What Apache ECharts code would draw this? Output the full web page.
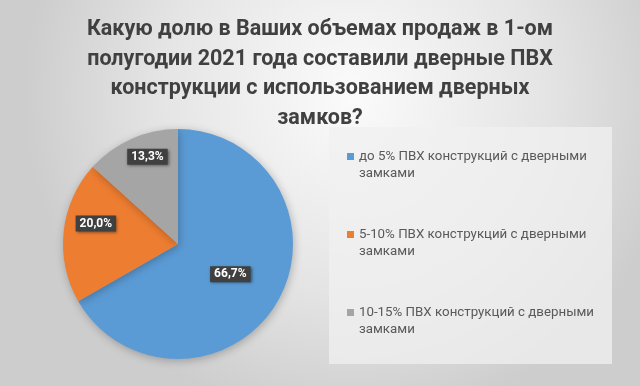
<!DOCTYPE html>
<html>
<head>
<meta charset="utf-8">
<script src="https://cdn.jsdelivr.net/npm/echarts@6/dist/echarts.min.js"></script>
<style>
html,body{margin:0;padding:0;}
#c{width:640px;height:386px;}
</style>
</head>
<body>
<div id="c"></div>
<script>
// --- data ---
var titleText = 'Какую долю в Ваших объемах продаж в 1-ом\nполугодии 2021 года составили дверные ПВХ\nконструкции с использованием дверных\nзамков?';
var categories = [
  'до 5% ПВХ конструкций с дверными замками',
  '5-10% ПВХ конструкций с дверными замками',
  '10-15% ПВХ конструкций с дверными замками'
];
var shares = [66.7, 20.0, 13.3];
var labels = ['66,7%', '20,0%', '13,3%'];

var colors = ['#5b9bd5', '#ed7d31', '#a5a5a5'];
var labelShift = [[0, 0], [-22, -14], [-6, -32]];
var FONT = 'Roboto';

var chart = echarts.init(document.getElementById('c'));
chart.setOption({
  animation: false,
  backgroundColor: {
    type: 'radial', x: 0.55, y: 0.25, r: 0.85,
    colorStops: [
      {offset: 0, color: '#fbfbfb'},
      {offset: 0.6, color: '#e4e4e4'},
      {offset: 1, color: '#cdcdcd'}
    ]
  },
  color: colors,
  title: {
    text: titleText,
    left: 'center',
    top: 10,
    textStyle: {
      fontFamily: FONT, fontSize: 21.5, fontWeight: 'bold',
      color: '#404040', lineHeight: 29.5
    }
  },
  legend: {
    orient: 'vertical',
    left: 329, top: 127,
    padding: [4, 13, 26, 18],
    backgroundColor: 'rgba(240,240,240,0.75)',
    itemWidth: 7, itemHeight: 7,
    itemGap: 27,
    icon: 'rect',
    formatter: function (n) { return '\n' + n.replace(' замками', '\nзамками'); },
    textStyle: {
      fontFamily: FONT, fontSize: 13.3, color: '#595959',
      lineHeight: 17, width: 240
    },
    data: categories
  },
  series: [{
    type: 'pie',
    center: [178, 244],
    radius: 115,
    startAngle: 90,
    clockwise: true,
    avoidLabelOverlap: false,
    itemStyle: {
      shadowBlur: 8, shadowColor: 'rgba(0,0,0,0.25)', shadowOffsetX: 1, shadowOffsetY: 2
    },
    label: {
      show: true,
      position: 'inside',
      formatter: function (p) { return labels[p.dataIndex]; },
      fontFamily: FONT, fontSize: 12, fontWeight: 'bold', color: '#ffffff',
      backgroundColor: '#404040',
      padding: [2, 4, 2, 4],
      shadowBlur: 3, shadowColor: 'rgba(0,0,0,0.5)', shadowOffsetX: 1, shadowOffsetY: 1
    },
    labelLayout: function (p) {
      var s = labelShift[p.dataIndex];
      return {dx: s[0], dy: s[1]};
    },
    labelLine: {show: false},
    data: categories.map(function (c, i) { return {name: c, value: shares[i]}; })
  }]
});
</script>
</body>
</html>
